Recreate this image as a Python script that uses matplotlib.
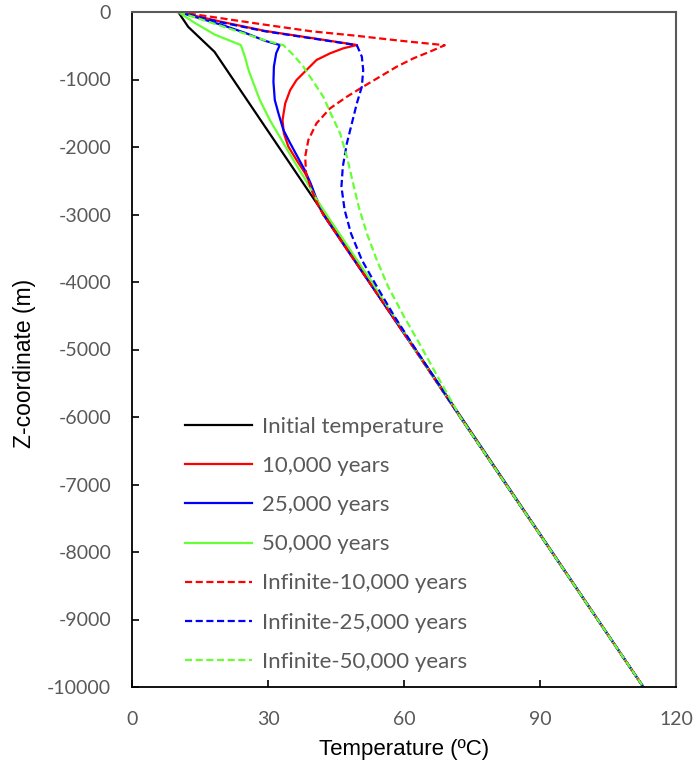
import matplotlib.pyplot as plt

plt.rcParams['font.family'] = ['Lato', 'DejaVu Sans']
plt.rcParams['axes.unicode_minus'] = False

# depth (m) and temperature (C)
deep_z = [-3000, -4000, -5000, -6000, -7000, -8000, -9000, -10000]
deep_t = [42.2, 52.3, 62.4, 72.4, 82.5, 92.6, 102.7, 112.8]

init_z = [0, -220, -590, -10000]
init_t = [10.2, 12.4, 18.2, 112.8]

y10_z = [0, -140, -280, -385, -489, -538, -612, -711, -859, -1007, -1156, -1353,
         -1600, -1797, -1995, -2193, -2390, -2588, -2800] + deep_z
y10_t = [10.2, 19.4, 29.3, 39.6, 49.6, 46.6, 43.7, 40.7, 38.5, 36.3, 34.9, 33.8,
         33.2, 33.5, 34.5, 36.3, 38.2, 39.6, 40.6] + deep_t

y25_z = [0, -95, -195, -310, -430, -489, -612, -810, -1037, -1304, -1501, -1748,
         -1945, -2143, -2341, -2538, -2750] + deep_z
y25_t = [10.2, 15.0, 20.0, 25.0, 29.5, 32.6, 31.8, 31.3, 31.2, 31.5, 32.3, 33.4,
         34.9, 36.5, 38.1, 39.4, 40.6] + deep_t

y50_z = [0, -80, -163, -336, -489, -661, -859, -1057, -1304, -1600, -1896, -2193,
         -2489, -2785, -3000, -3500, -4000] + deep_z[2:]
y50_t = [10.2, 12.0, 13.9, 18.3, 24.0, 24.9, 25.7, 26.8, 28.2, 30.4, 33.0, 35.6,
         38.3, 40.8, 42.9, 47.9, 52.9] + deep_t[2:]

inf10_z = [0, -90, -188, -286, -350, -425, -492, -588, -686, -810, -958, -1106,
           -1255, -1427, -1649, -1896, -2143, -2390, -2637, -2850] + deep_z
inf10_t = [10.2, 19.4, 29.3, 39.6, 49.2, 59.1, 69.0, 65.7, 62.1, 58.4, 54.7, 51.0,
           47.4, 43.7, 40.7, 38.9, 38.2, 38.4, 39.6, 41.0] + deep_t

inf25_z = [0, -150, -285, -390, -492, -661, -859, -1106, -1353, -1649, -1945,
           -2292, -2588, -2933, -3279, -3674, -4020, -4500, -5000] + deep_z[3:]
inf25_t = [10.2, 19.4, 29.3, 39.6, 49.6, 50.7, 51.0, 50.7, 49.6, 48.5, 47.4,
           46.5, 46.2, 46.9, 48.3, 50.7, 53.6, 57.8, 62.6] + deep_t[3:]

inf50_z = [0, -200, -418, -492, -637, -810, -1032, -1255, -1526, -1797, -2143,
           -2489, -2884, -3279, -3674, -4069, -4500, -4900, -5400] + deep_z[3:]
inf50_t = [10.2, 19.4, 29.3, 33.4, 35.6, 37.8, 40.0, 42.2, 44.0, 45.9, 47.4,
           48.6, 50.0, 51.8, 54.0, 56.5, 59.9, 63.3, 67.4] + deep_t[3:]

series = [
    ('Initial temperature', init_t, init_z, 'black', '-'),
    ('10,000 years', y10_t, y10_z, '#FF0000', '-'),
    ('25,000 years', y25_t, y25_z, '#0000FF', '-'),
    ('50,000 years', y50_t, y50_z, '#66FF33', '-'),
    ('Infinite-10,000 years', inf10_t, inf10_z, '#FF0000', '--'),
    ('Infinite-25,000 years', inf25_t, inf25_z, '#0000FF', '--'),
    ('Infinite-50,000 years', inf50_t, inf50_z, '#66FF33', '--'),
]

fig = plt.figure(figsize=(6.96, 7.67), dpi=100)
ax = fig.add_axes([132/696, 80/767, 544/696, 675/767])

for label, t, z, col, ls in series:
    line, = ax.plot(t, z, color=col, linestyle=ls, linewidth=1.6, label=label)
    if ls == '--':
        line.set_dashes((3.2, 1.6))

ax.set_xlim(0, 120)
ax.set_ylim(-10000, 0)
ax.set_xticks([0, 30, 60, 90, 120])
ax.set_yticks(range(-10000, 1, 1000))

grey = '#595959'
ax.tick_params(axis='both', direction='in', length=5, width=1.2,
               labelsize=14, labelcolor=grey)
ax.tick_params(axis='x', pad=17)
ax.tick_params(axis='y', pad=15)
for s in ['left', 'bottom']:
    ax.spines[s].set_color('black')
    ax.spines[s].set_linewidth(1.3)
for s in ['top', 'right']:
    ax.spines[s].set_color(grey)
    ax.spines[s].set_linewidth(1.5)

ax.set_xlabel('Temperature (ºC)', fontsize=16, color='black', labelpad=8,
              family=['Liberation Sans', 'DejaVu Sans'])
ax.set_ylabel('Z-coordinate (m)', fontsize=16.5, color='black',
              family=['Liberation Sans', 'DejaVu Sans'])
ax.yaxis.set_label_coords(-0.176, 0.48)

leg = ax.legend(loc='upper left', bbox_to_anchor=(0.0974, 0.400), frameon=False,
                fontsize=16, handlelength=3.0, handletextpad=0.45,
                labelspacing=0.86, borderpad=0, borderaxespad=0)
for txt in leg.get_texts():
    txt.set_color(grey)

fig.savefig('out.png', dpi=100)
